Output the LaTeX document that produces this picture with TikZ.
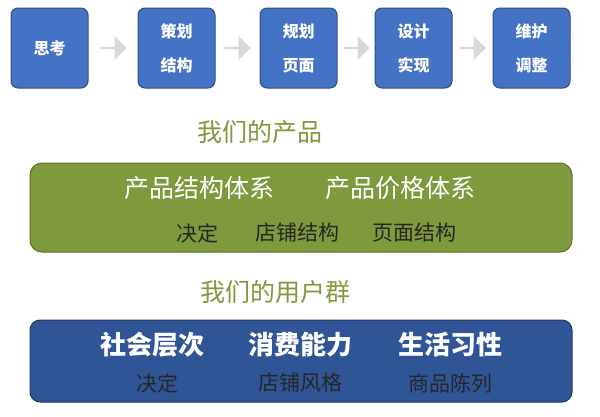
\documentclass[tikz,border=0pt]{standalone}
\usepackage{fontspec}
\setmainfont{Noto Sans CJK SC}
\usetikzlibrary{shapes.arrows}
\definecolor{bx}{HTML}{4472C4}
\definecolor{bxd}{HTML}{2F4E85}
\definecolor{gr}{HTML}{7E9A3C}
\definecolor{grd}{HTML}{5A7028}
\definecolor{bl}{HTML}{2F5597}
\definecolor{bld}{HTML}{1F3864}
\begin{document}
\begin{tikzpicture}[x=1pt,y=-1pt,
  stepbox/.style={draw=bxd,line width=1pt,fill=bx,rounded corners=7pt,minimum width=77pt,minimum height=80pt,text=white,font=\bfseries\fontsize{16}{34}\selectfont,align=center},
  arr/.style={single arrow,fill=black!15,draw=none,minimum width=24pt,single arrow head extend=2pt,minimum height=26pt,inner sep=0pt},
  ttl/.style={text=gr,font=\fontsize{25}{28}\selectfont},
  gt/.style={text=white,font=\fontsize{25}{28}\selectfont},
  st/.style={text=black!85,font=\fontsize{21}{24}\selectfont},
  bt/.style={text=white,font=\bfseries\fontsize{26}{30}\selectfont}]
\useasboundingbox (0,0) rectangle (600,416);
\node[stepbox] (s1) at (49.5,48) {思考};
\node[stepbox] (s2) at (176.5,48) {策划\\结构};
\node[stepbox] (s3) at (298.5,48) {规划\\页面};
\node[stepbox] (s4) at (413.5,48) {设计\\实现};
\node[stepbox] (s5) at (531.5,48) {维护\\调整};
\node[arr] (a1) at (113,48) {};
\node[arr] (a2) at (237,48) {};
\node[arr] (a3) at (356,48) {};
\node[arr] (a4) at (472,48) {};
\node[ttl] (t1) at (260,132) {我们的产品};
\draw[draw=grd,line width=1pt,fill=gr,rounded corners=12pt] (30,163) rectangle (572,252);
\node[gt] (g1) at (199,188) {产品结构体系};
\node[gt] (g2) at (400,188) {产品价格体系};
\node[st] (g3) at (197,233) {决定};
\node[st] (g4) at (297,233) {店铺结构};
\node[st] (g5) at (414,233) {页面结构};
\node[ttl] (t2) at (275,292) {我们的用户群};
\draw[draw=bld,line width=1pt,fill=bl,rounded corners=10pt] (30,320) rectangle (572,402);
\node[bt] (b1) at (152,345) {社会层次};
\node[bt] (b2) at (300,345) {消费能力};
\node[bt] (b3) at (450,345) {生活习性};
\node[st] (b4) at (157,383) {决定};
\node[st] (b5) at (300,383) {店铺风格};
\node[st] (b6) at (450,383) {商品陈列};
\end{tikzpicture}
\end{document}
